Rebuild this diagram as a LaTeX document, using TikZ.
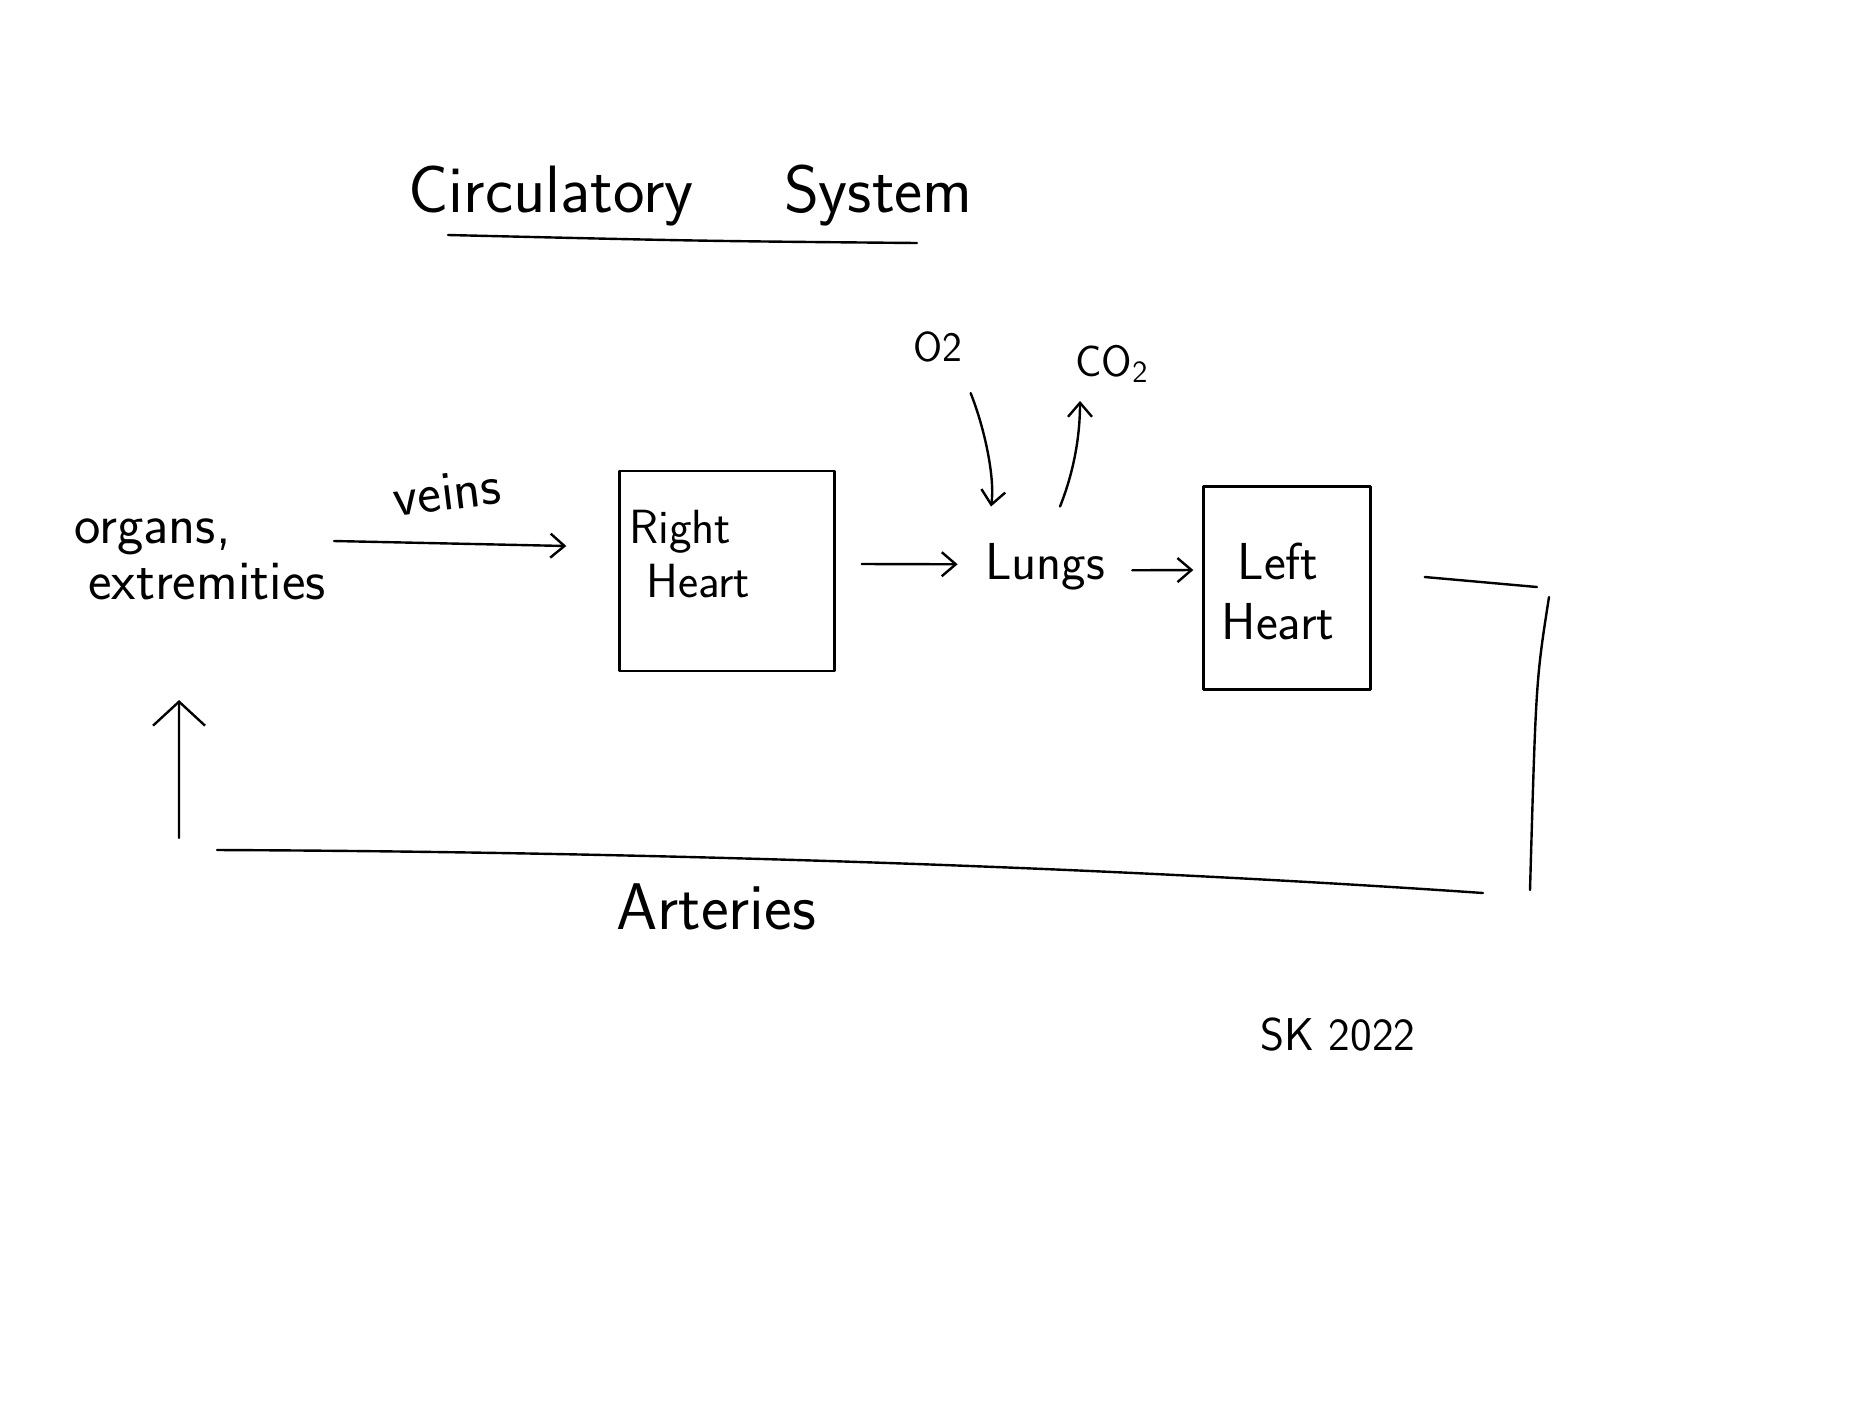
\documentclass[tikz,border=0pt]{standalone}
\usepackage{fontspec}
\usetikzlibrary{arrows.meta}
\begin{document}
\begin{tikzpicture}[x=0.5pt,y=-0.5pt,
  ink/.style={line width=1.2pt, line cap=round, line join=round},
  arr/.style={ink, -{Straight Barb[length=7pt,width=12pt,line width=1.2pt]}},
  bigarr/.style={ink, -{Straight Barb[length=12pt,width=26pt,line width=1.2pt]}},
  lbl/.style={inner sep=0pt, font=\sffamily\fontsize{#1}{#1}\selectfont},
  box/.style={draw, ink, inner sep=0pt}
]
\fill[white] (0,0) rectangle (1872,1404);
\useasboundingbox (0,0) rectangle (1872,1404);

% title
\node[lbl=33.5, anchor=base west] (title) at (408,212) {Circulatory\hspace{1.35em}System};
\draw[ink] (448,235) .. controls (700,241) .. (917,243);

% gases
\node[lbl=21, anchor=base west] (o2) at (913,361) {O2};
\node[lbl=22, anchor=base west] (co2) at (1075,376) {CO\textsubscript{2}};

% organs
\node[inner sep=0pt, font=\sffamily\fontsize{28}{28}\selectfont, align=left, anchor=north west] (organs) at (74,518) {organs,\\\hspace*{0.25em}extremities};

% veins label
\node[lbl=28, rotate=7] (veins) at (447,492) {veins};

% right heart
\node[box, minimum width=107.5pt, minimum height=100pt] (rh) at (727,571) {};
\node[inner sep=0pt, font=\sffamily\fontsize{24}{27}\selectfont, align=left, anchor=north west] (rhtext) at (629,510) {Right\\\hspace*{0.35em}Heart};

% lungs
\node[lbl=26, anchor=base] (lungs) at (1045,579) {Lungs};

% left heart
\node[box, minimum width=83.5pt, minimum height=101.5pt] (lh) at (1287,588) {};
\node[inner sep=0pt, font=\sffamily\fontsize{26}{30}\selectfont, align=center, anchor=north] (lhtext) at (1278,543) {Left\\Heart};

% arteries label and signature
\node[lbl=33, anchor=base] (arteries) at (716,929) {Arteries};
\node[lbl=23, anchor=base west] (sig) at (1260,1050) {SK 2022};

% connectors
\draw[arr] ([shift={(8,-18)}]organs.east) -- ([shift={(-52,-25)}]rh.west);
\draw[arr] ([shift={(26,-7)}]rh.east) -- ([shift={(-27,-2)}]lungs.west);
\draw[arr] ([shift={(27,4)}]lungs.east) -- ([shift={(-9,-18)}]lh.west);
\draw[arr] ([shift={(8,31)}]o2.south east) .. controls +(15,38) and +(4,-27) .. ([shift={(-54,-36)}]lungs.north);
\draw[arr] ([shift={(15,-36)}]lungs.north) .. controls +(12,-30) and +(0,40) .. ([shift={(5,18)}]co2.south west);

\coordinate (a1) at (1537,587);
\coordinate (a2) at (1549,597);
\coordinate (a3) at (1530,890);
\coordinate (a4) at (1483,893);
\coordinate (a5) at (217,850);
\coordinate (a6) at (179,838);
\draw[bigarr] ([shift={(53,-11)}]lh.east) -- (a1)
  (a2) .. controls (1536,680) .. (a3)
  (a4) .. controls (1150,870) and (700,852) .. (a5)
  (a6) -- ([shift={(-21,100)}]organs.south);
\end{tikzpicture}
\end{document}
